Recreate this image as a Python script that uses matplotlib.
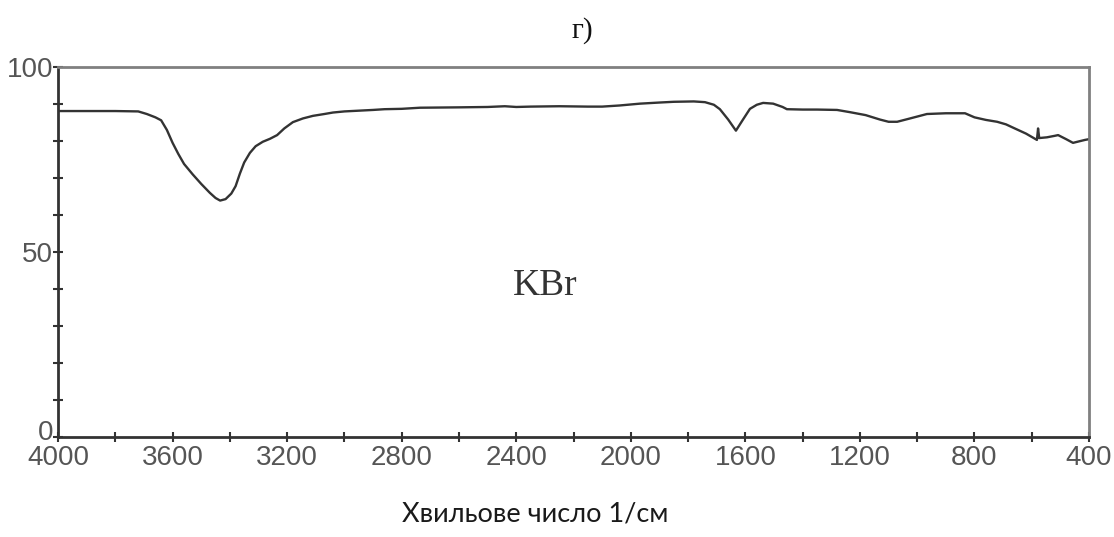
import numpy as np
import matplotlib
matplotlib.use("Agg")
import matplotlib.pyplot as plt
import matplotlib.transforms as mtransforms
from matplotlib.ticker import MultipleLocator, FixedLocator

# IR spectrum of a KBr pellet: wavenumber (1/cm) and transmittance (%)
wavenumber = [4000, 3900, 3800, 3720, 3690, 3660, 3640, 3620, 3600, 3580,
              3560, 3530, 3500, 3470, 3450, 3434, 3415, 3395, 3380, 3365,
              3350, 3330, 3310, 3285, 3260, 3235, 3210, 3180, 3145, 3110,
              3070, 3040, 3000, 2950, 2900, 2860, 2800, 2736, 2600, 2500,
              2440, 2400, 2350, 2250, 2150, 2100, 2040, 1968, 1900, 1850,
              1780, 1741, 1710, 1689, 1660, 1633, 1610, 1584, 1560, 1538,
              1503, 1470, 1455, 1400, 1350, 1280, 1235, 1180, 1130, 1100,
              1070, 1030, 966, 900, 833, 800, 760, 721, 690, 665,
              620, 582, 578, 574, 547, 520, 508, 480, 456, 430,
              414, 400]
transmittance = [88.1, 88.1, 88.1, 88.0, 87.3, 86.4, 85.6, 83.0, 79.5, 76.5,
                 73.8, 71.0, 68.4, 66.0, 64.6, 63.9, 64.3, 65.8, 67.8, 71.2,
                 74.2, 76.8, 78.6, 79.8, 80.6, 81.6, 83.4, 85.1, 86.1, 86.8,
                 87.3, 87.7, 88.0, 88.2, 88.4, 88.6, 88.7, 89.0, 89.1, 89.2,
                 89.4, 89.2, 89.3, 89.4, 89.3, 89.3, 89.6, 90.1, 90.4, 90.6,
                 90.7, 90.5, 89.8, 88.6, 85.8, 82.8, 85.6, 88.7, 89.8, 90.3,
                 90.1, 89.2, 88.6, 88.5, 88.5, 88.4, 87.8, 87.0, 85.8, 85.2,
                 85.2, 86.0, 87.3, 87.5, 87.5, 86.4, 85.7, 85.2, 84.5, 83.6,
                 82.0, 80.3, 83.4, 80.8, 81.0, 81.4, 81.6, 80.5, 79.5, 80.0,
                 80.3, 80.5]

x_labels = [4000, 3600, 3200, 2800, 2400, 2000, 1600, 1200, 800, 400]
y_labels = [0, 50, 100]

fig = plt.figure(figsize=(11.14, 5.37), dpi=100)
ax = fig.add_axes([0.0521, 0.1862, 0.9255, 0.689])

ax.plot(wavenumber, transmittance, color="#333333", lw=1.7)

ax.set_xlim(4000, 400)
ax.set_ylim(0, 100)

tick_font = dict(family="Liberation Sans", size=20, color="#555555")
ax.xaxis.set_major_locator(FixedLocator(x_labels))
ax.xaxis.set_minor_locator(MultipleLocator(200))
ax.yaxis.set_major_locator(FixedLocator(y_labels))
ax.yaxis.set_minor_locator(MultipleLocator(10))
ax.set_xticklabels([str(v) for v in x_labels], **tick_font)
ax.set_yticklabels([str(v) for v in y_labels], **tick_font)
ax.tick_params(which="both", direction="inout", length=7, width=1.5,
               color="#333333")
ax.tick_params(axis="x", pad=2)
ax.tick_params(axis="y", pad=0)

# lift the "0" label a little so it clears the "4000" below it
zero_label = ax.get_yticklabels()[0]
zero_label.set_transform(zero_label.get_transform() +
                         mtransforms.ScaledTranslation(0, 5 / 72, fig.dpi_scale_trans))

for side in ("left", "bottom"):
    ax.spines[side].set_color("#333333")
    ax.spines[side].set_linewidth(2.0)
for side in ("top", "right"):
    ax.spines[side].set_color("#808080")
    ax.spines[side].set_linewidth(2.0)

ax.text(2300, 41, "KBr", family="Liberation Serif", size=27,
        color="#333333", ha="center", va="center")

fig.text(0.523, 0.944, "г)", family="Liberation Serif", size=21,
         color="#111111", ha="center", va="center")
fig.text(0.48, 0.02, "Хвильове число 1/см", family="Lato", size=19.5,
         color="#1a1a1a", ha="center", va="bottom")

fig.savefig("out.png", dpi=100)
